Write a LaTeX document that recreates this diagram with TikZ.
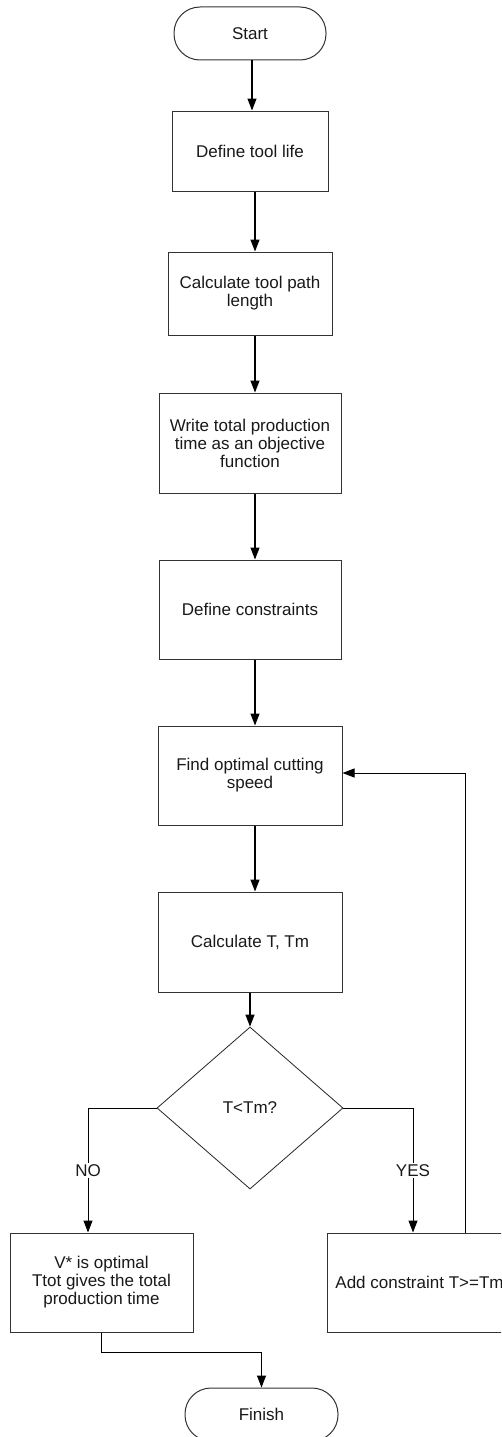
\documentclass[tikz,border=0pt]{standalone}
\usepackage{fontspec}
\setmainfont{Liberation Sans}
\usetikzlibrary{shapes.geometric,arrows.meta,calc}
\begin{document}
\begin{tikzpicture}[x=1pt,y=-1pt,
  every node/.style={font=\fontsize{17}{18}\selectfont, text=black!90, align=center, inner sep=0pt},
  procbox/.style={draw=black!80, line width=1pt, rectangle},
  term/.style={draw=black!80, line width=1pt, rectangle, rounded corners=26pt},
  decis/.style={draw=black!85, line width=0.8pt, diamond},
  arr/.style={line width=1.2pt, -{Triangle[length=12pt,width=9pt]}},
  thinarr/.style={line width=1pt, -{Triangle[length=12pt,width=9pt]}},
  lbl/.style={fill=white, inner sep=1.5pt}]
\useasboundingbox (0,0) rectangle (501,1437);
\clip (0,0) rectangle (501,1437);
\fill[white] (0,0) rectangle (501,1437);

\node[term, minimum width=152pt, minimum height=53pt] (start) at (250,33.5) {Start};
\node[procbox, minimum width=156pt, minimum height=80pt] (life) at (250,151) {Define tool life};
\node[procbox, minimum width=164pt, minimum height=83pt] (path) at (250,293.5) {Calculate tool path\\length};
\node[procbox, minimum width=182pt, minimum height=100pt] (obj) at (250,443) {Write total production\\time as an objective\\function};
\node[procbox, minimum width=182pt, minimum height=99pt] (cons) at (250,609.5) {Define constraints};
\node[procbox, minimum width=184pt, minimum height=99pt] (find) at (250,775.5) {Find optimal cutting\\speed};
\node[procbox, minimum width=184pt, minimum height=100pt] (calc) at (250,942) {Calculate T, Tm};
\node[decis, minimum width=186pt, minimum height=162pt] (dec) at (250,1108) {T<Tm?};
\node[procbox, minimum width=183pt, minimum height=99pt] (opt) at (101.5,1282.5) {V* is optimal\\Ttot gives the total\\production time};
\node[procbox, minimum width=185pt, minimum height=99pt] (add) at (419.5,1282.5) {Add constraint T>=Tm};
\node[term, minimum width=153pt, minimum height=53pt] (fin) at (261.5,1414.5) {Finish};

\draw[arr] ([xshift=2pt]start.south) -- ([xshift=2pt]life.north);
\draw[arr] ([xshift=5pt]life.south) -- ([xshift=5pt]path.north);
\draw[arr] ([xshift=5pt]path.south) -- ([xshift=5pt]obj.north);
\draw[arr] ([xshift=5pt]obj.south) -- ([xshift=5pt]cons.north);
\draw[arr] ([xshift=5pt]cons.south) -- ([xshift=5pt]find.north);
\draw[arr] ([xshift=5pt]find.south) -- ([xshift=5pt]calc.north);
\draw[arr] (calc.south) -- (dec.north);
\draw[thinarr] (dec.west) -| ([xshift=-13.5pt]opt.north) node[lbl, pos=0.75] {NO};
\draw[thinarr] (dec.east) -| ([xshift=-6.5pt]add.north) node[lbl, pos=0.75] {YES};
\draw[thinarr] ([xshift=45.5pt]add.north) |- ([yshift=2.5pt]find.east);
\draw[thinarr] (opt.south) -- ++(0,20) -| (fin.north);
\end{tikzpicture}
\end{document}
